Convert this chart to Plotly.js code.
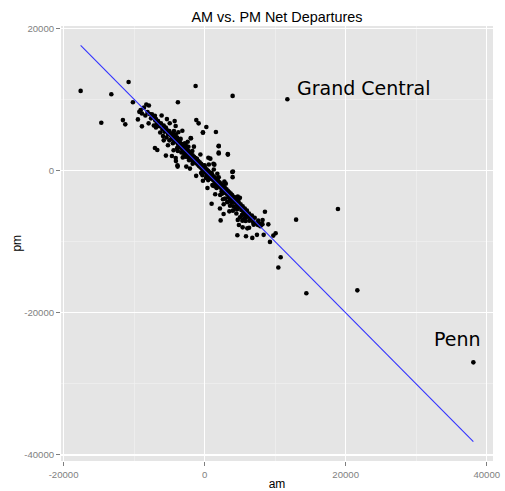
<!DOCTYPE html>
<html>
<head>
<meta charset="utf-8">
<script src="https://cdn.plot.ly/plotly-3.0.1.min.js"></script>
<style>html,body{margin:0;padding:0;background:#fff;}#chart{width:505px;height:491px;}</style>
</head>
<body>
<div id="chart"></div>
<script>
// Station net departures (AM, PM)
const am = [
-17580,-13230,-10780,-1280,3970,11730,-14650,-11590,-11250,-10170,-3790,-8270,-7900,-9080,-9260,-8890,-7470,-7050,-9460,-8890,
-7940,-5350,-4250,-4110,-1180,-850,240,-240,1600,-3160,-3730,-1940,-7050,-6710,-5490,-4640,-3830,-4070,-2080,-1520,
-1740,1990,1990,3300,810,1380,4010,3970,-240,990,2270,2690,2170,4640,5860,6760,7420,8370,8550,8220,
9030,9740,10070,9260,10780,10450,12970,18900,21650,14420,38100,6950,7560,7840,5390,6050,4860,5350,5810,6340,
5010,5810,
-8600,-8100,-8400,-7800,-7600,-7300,-7000,-6800,-6600,-6400,-6900,-6200,-6000,-5800,-5700,-5500,-5300,-5200,-5000,-6300,-7200,-5900,-5400,
-4800,-4700,-4600,-4400,-4300,-4200,-4000,-3900,-3800,-3700,-3600,-3500,-3400,-3300,-3200,-3100,-3000,-2900,-2800,-2700,
-2600,-2500,-2400,-2300,-2200,-2100,-2000,-1900,-1800,-1700,-1600,-1500,-1400,-1300,-1200,-1100,-1000,-4500,-3900,-3300,
-2700,-2200,-1700,-4100,-3400,-2800,-2300,-5000,
-900,-800,-700,-600,-500,-400,-300,-200,-100,0,100,200,300,400,500,600,700,800,900,1000,
1100,1200,1300,1400,1500,1600,1700,1800,1900,2000,2100,2200,2300,2400,2500,2600,2700,2800,2900,3000,
3100,3200,3300,3400,3500,3600,3700,3800,3900,4000,-500,0,500,1000,1500,2000,2500,3000,3500,200,
1200,2200,2800,-300,600,1300,1800,3200,2600,
4200,4300,4500,4600,4800,4900,5100,5200,5400,5500,5700,5800,6000,6100,6300,6500,6700,6900,7100,7300,
7600,7900,8200,4400,4700,5300,3600,4000,4500,3800,5000,
-1980,-240,2000,2000,3280,530,1250,3920,-3850,-4100,-3800,-2900,-2330,-1650,-4950,-6100,
-6900,-5600,-4350,-2600,-1100,300,1100,2900,4100,5600,6900,8000,-1350,-550,700,1700,2400,3400,4600,5900,
-5200,-2400,-600,-2600,-1200,400,1500,2700,3500,4700,6300,-4400,-3100,-5800
];
const pm = [
11260,10800,12520,11960,10560,10090,6770,7150,6550,9670,9670,9350,9210,8550,8310,8090,7950,7750,7250,6270,
6690,7290,7010,6310,7150,6690,6170,5430,5470,5650,5430,4580,3220,2940,2150,2100,600,1400,320,3410,
2800,3460,2570,2290,1720,880,-100,-880,-1400,-4630,-6970,-6070,-5290,-9070,-9210,-9440,-9010,-9010,-5750,-6910,
-7530,-9110,-8790,-10000,-12160,-13600,-6870,-5370,-16820,-17240,-26960,-7570,-7610,-7430,-7950,-8090,-7610,-7010,-7050,-7010,
-6550,-6310,
8900,8300,7800,8000,7400,7700,7100,6600,7000,6300,6100,6700,5900,6400,5500,6100,5700,5200,5600,5400,6400,4900,4700,
5000,4500,5300,4800,4200,4600,4100,4700,3800,4300,3500,4000,3300,3800,3100,3600,2900,3400,2700,3200,
2500,3000,2300,2800,2100,2600,1900,2400,1700,2200,1500,2000,1300,1800,1100,1600,900,3900,3200,2600,
2000,1500,1000,5100,4500,3900,3400,4300,
1400,700,1200,500,1000,300,800,100,600,-100,400,-300,200,-500,0,-700,-200,-900,-400,-1100,
-600,-1300,-800,-1500,-1000,-1700,-1200,-1900,-1400,-2100,-1600,-2300,-1800,-2500,-2000,-2700,-2200,-2900,-2400,-3100,
-2600,-3300,-2800,-3500,-3000,-3700,-3200,-3900,-3400,-4100,-300,800,-1300,-300,-2200,-900,-3200,-1800,-4200,-1000,
-2100,-3400,-1500,-600,900,200,-400,-4400,-4000,
-3700,-4400,-4000,-4800,-4300,-5100,-4700,-5500,-5000,-5800,-5300,-6100,-5600,-6400,-6000,-6700,-6300,-7100,-6600,-7400,
-7000,-7800,-7500,-5300,-3600,-6200,-4900,-5600,-6000,-4500,-3800,
4640,5360,3520,2450,2360,1840,1010,-160,800,1800,2800,2400,1900,1250,6700,7800,
7300,5900,5600,3500,1700,-800,-2000,-3900,-5000,-6700,-7300,-7600,1800,900,-1100,-2400,-2900,-3700,-5400,-6500,
3600,4100,2300,600,-700,-2400,-3300,-4700,-5700,-6900,-8000,2900,1900,4300
];
// Fitted regression line endpoints
const fitAm = [-17580, 38100];
const fitPm = [17660, -38120];
// Labels
const labelText = ["Grand Central", "Penn"];
const labelAm = [22550, 35800];
const labelPm = [11640, -23700];
const xTicks = [-20000, 0, 20000, 40000];
const yTicks = [20000, 0, -20000, -40000];

const traces = [
  {x: am, y: pm, type: 'scatter', mode: 'markers',
   marker: {color: '#000000', size: 4.6, line: {width: 0}}, hoverinfo: 'skip'},
  {x: fitAm, y: fitPm, type: 'scatter', mode: 'lines',
   line: {color: '#3333FF', width: 1.1}, hoverinfo: 'skip'}
];

const axisCommon = {
  showline: false, zeroline: false,
  showgrid: true, gridcolor: '#FFFFFF', gridwidth: 1.1,
  ticks: 'outside', ticklen: 4, tickcolor: '#7F7F7F', tickwidth: 1,
  tickfont: {family: 'Liberation Sans, Arial, sans-serif', size: 9.6, color: '#7F7F7F'},
  tickmode: 'array'
};

const annots = labelText.map((t, i) => ({
  x: labelAm[i], y: labelPm[i], xref: 'x', yref: 'y', text: t, showarrow: false,
  xanchor: 'center', yanchor: 'middle',
  font: {family: 'DejaVu Sans, sans-serif', size: 19, color: '#000000'}
}));
annots.push({
  x: -0.104, y: 0.5, xref: 'paper', yref: 'paper', text: 'pm', textangle: -90, showarrow: false,
  xanchor: 'center', yanchor: 'middle',
  font: {family: 'Liberation Sans, Arial, sans-serif', size: 12, color: '#000000'}
});

const layout = {
  width: 505, height: 491,
  margin: {l: 61, r: 12, t: 26, b: 30},
  paper_bgcolor: '#FFFFFF', plot_bgcolor: '#E5E5E5',
  showlegend: false,
  title: {text: 'AM vs. PM Net Departures', x: 0.5, xref: 'paper', xanchor: 'center',
          y: 0.965, yref: 'container', yanchor: 'middle',
          font: {family: 'Liberation Sans, Arial, sans-serif', size: 14.4, color: '#000000'}},
  xaxis: Object.assign({}, axisCommon, {
    range: [-20364, 40884], tickvals: xTicks, ticktext: xTicks.map(String),
    minor: {tick0: -10000, dtick: 20000, showgrid: true, gridcolor: '#F2F2F2', gridwidth: 0.6},
    title: {text: 'am', standoff: 2, font: {family: 'Liberation Sans, Arial, sans-serif', size: 12, color: '#000000'}}
  }),
  yaxis: Object.assign({}, axisCommon, {
    range: [-40850, 20400], tickvals: yTicks, ticktext: yTicks.map(String),
    minor: {tick0: -30000, dtick: 20000, showgrid: true, gridcolor: '#F2F2F2', gridwidth: 0.6}
  }),
  annotations: annots
};

Plotly.newPlot('chart', traces, layout, {staticPlot: true, displayModeBar: false});
</script>
</body>
</html>
